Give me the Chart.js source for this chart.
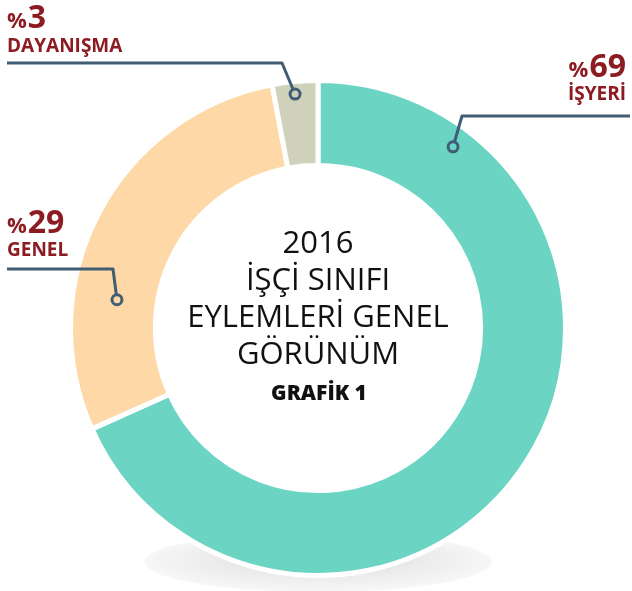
<!DOCTYPE html>
<html>
<head>
<meta charset="utf-8">
<script src="https://cdn.jsdelivr.net/npm/chart.js@4.4.1/dist/chart.umd.min.js"></script>
<style>
  html, body { margin: 0; padding: 0; background: #fff; }
  #wrap { width: 632px; height: 591px; position: relative; }
</style>
</head>
<body>
<div id="wrap"><canvas id="eylemChart" width="632" height="591"></canvas></div>
<script>
// Veriler
const kategoriler = ['İŞYERİ', 'GENEL', 'DAYANIŞMA'];
const yuzdeler = [69, 29, 3];
const renkler = ['#6bd4c3', '#fed9a7', '#cfd1bb'];
const baslikSatirlari = ['2016', 'İŞÇİ SINIFI', 'EYLEMLERİ GENEL', 'GÖRÜNÜM'];
const grafikNo = 'GRAFİK 1';

const KIRMIZI = '#8c1c22';
const CIZGI = '#415d74';

// Etiket yerleşimi (annotasyon)
const etiketAyar = [
  { aci: 36.7, r: 226, align: 'right', x: 626, yNum: 77, yAd: 100, cizgiY: 116, kirik: 462, uc: 630 },
  { aci: 278, r: 203, align: 'left', x: 7, yNum: 233, yAd: 256, cizgiY: 269, kirik: 113, uc: 7 },
  { aci: -5.6, r: 235, align: 'left', x: 7, yNum: 28, yAd: 52, cizgiY: 63, kirik: 282, uc: 7 }
];

// Gölge elipsi
const golgePlugin = {
  id: 'golge',
  beforeDatasetsDraw(chart) {
    const ctx = chart.ctx;
    const meta = chart.getDatasetMeta(0);
    const cx = meta.data[0].x;
    ctx.save();
    ctx.translate(cx, 562);
    ctx.scale(1, 30 / 174);
    const g = ctx.createRadialGradient(0, -60, 0, 0, 0, 174);
    g.addColorStop(0, 'rgba(0,0,0,0.22)');
    g.addColorStop(0.6, 'rgba(0,0,0,0.08)');
    g.addColorStop(1, 'rgba(0,0,0,0.03)');
    ctx.beginPath();
    ctx.arc(0, 0, 174, 0, Math.PI * 2);
    ctx.fillStyle = g;
    ctx.fill();
    ctx.restore();
  }
};

// Merkez yazı ve etiketler
const yaziPlugin = {
  id: 'yazilar',
  afterDraw(chart) {
    const ctx = chart.ctx;
    const meta = chart.getDatasetMeta(0);
    const cx = meta.data[0].x, cy = meta.data[0].y;
    ctx.save();
    ctx.textAlign = 'center';
    ctx.textBaseline = 'alphabetic';
    ctx.fillStyle = '#111';
    ctx.font = '400 31px "Open Sans"';
    baslikSatirlari.forEach((s, i) => ctx.fillText(s, cx, 253 + i * 37));
    ctx.font = '800 21px "Open Sans"';
    ctx.fillText(grafikNo, cx + 1, 400);

    etiketAyar.forEach((a, i) => {
      const rad = a.aci * Math.PI / 180;
      const px = cx + a.r * Math.sin(rad);
      const py = cy - a.r * Math.cos(rad);
      // leader line
      ctx.strokeStyle = CIZGI;
      ctx.lineWidth = 3;
      ctx.lineJoin = 'round';
      ctx.beginPath();
      ctx.moveTo(a.uc, a.cizgiY);
      ctx.lineTo(a.kirik, a.cizgiY);
      const dx = px - a.kirik, dy = py - a.cizgiY, d = Math.hypot(dx, dy);
      ctx.lineTo(px - dx / d * 5, py - dy / d * 5);
      ctx.stroke();
      ctx.beginPath();
      ctx.arc(px, py, 5, 0, Math.PI * 2);
      ctx.stroke();

      // text
      ctx.fillStyle = KIRMIZI;
      ctx.textAlign = 'left';
      const numStr = String(yuzdeler[i]);
      ctx.font = '700 22px "Open Sans"';
      const wP = ctx.measureText('%').width;
      ctx.font = '700 32px "Open Sans"';
      const wN = ctx.measureText(numStr).width;
      const x0 = a.align === 'right' ? a.x - wP - wN - 1 : a.x;
      ctx.font = '700 22px "Open Sans"';
      ctx.fillText('%', x0, a.yNum);
      ctx.font = '700 32px "Open Sans"';
      ctx.fillText(numStr, x0 + wP + 1, a.yNum);
      ctx.font = '700 19px "Open Sans"';
      ctx.textAlign = a.align;
      ctx.fillText(kategoriler[i], a.x, a.yAd);
    });
    ctx.restore();
  }
};

new Chart(document.getElementById('eylemChart').getContext('2d'), {
  type: 'doughnut',
  data: {
    labels: kategoriler,
    datasets: [{
      data: yuzdeler,
      backgroundColor: renkler,
      borderColor: '#ffffff',
      borderWidth: 5
    }]
  },
  options: {
    responsive: false,
    animation: false,
    cutout: '65.7%',
    layout: { padding: { top: 78, bottom: 13, left: 6, right: 2 } },
    plugins: {
      legend: { display: false },
      tooltip: { enabled: false }
    }
  },
  plugins: [golgePlugin, yaziPlugin]
});
</script>
</body>
</html>
